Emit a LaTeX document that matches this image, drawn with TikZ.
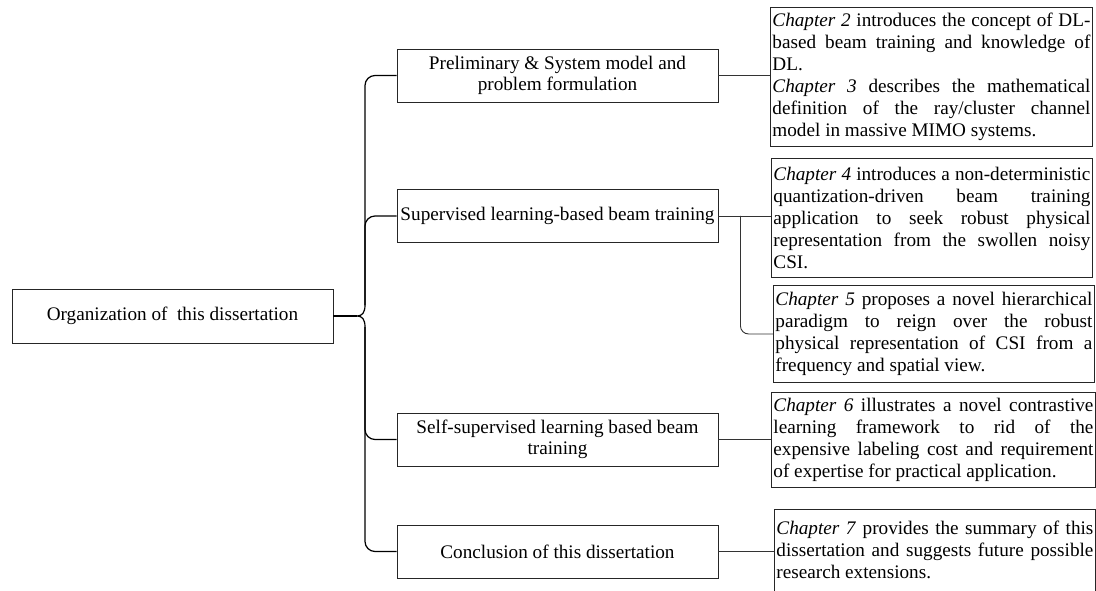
\documentclass[tikz,border=0pt]{standalone}
\usepackage{fontspec}
\setmainfont{Liberation Serif}
\usetikzlibrary{calc}
\begin{document}
\begin{tikzpicture}[x=1pt,y=-1pt,
  topicbox/.style={draw=black!85, line width=0.9pt, minimum width=321pt,
    minimum height=53pt, inner sep=0pt, align=center,
    font=\fontsize{19.2}{21.5}\selectfont},
  chapbox/.style={draw=black!85, line width=0.9pt, anchor=north west,
    inner xsep=2pt, inner ysep=0pt, align=justify,
    font=\fontsize{19.2}{21.9}\selectfont},
  link/.style={draw=black!80, line width=0.9pt},
  bracepart/.style={draw=black, line width=1.2pt},
  branch/.style={bracepart, rounded corners=10pt}]
\useasboundingbox (0,0) rectangle (1096,591);
\clip (0,0) rectangle (1096,591);

% root and the four topics
\node[topicbox, minimum height=54pt] (root) at (172.5,316) {Organization of~ this dissertation};
\node[topicbox] (b1) at (557.5,75.5) {Preliminary \& System model and\\problem formulation};
\node[topicbox] (b2) at (557.5,216) {Supervised learning-based beam training};
\node[topicbox] (b3) at (557.5,439.5) {Self-supervised learning based beam\\training};
\node[topicbox] (b4) at (557.5,551.5) {Conclusion of this dissertation};

% chapter summaries
\node[chapbox, text width=318pt, minimum height=139pt] (ch2) at (770,7)
  {\textit{Chapter 2} introduces the concept of DL-\linebreak
   based beam training and knowledge of\linebreak
   DL.\par
   \textit{Chapter 3} describes the mathematical\linebreak
   definition of the ray/cluster channel\linebreak
   model in massive MIMO systems.};
\node[chapbox, text width=317pt, minimum height=119pt] (ch4) at (771,158)
  {\textit{Chapter 4} introduces a non-deterministic\linebreak
   quantization-driven beam training\linebreak
   application to seek robust physical\linebreak
   representation from the swollen noisy\linebreak
   CSI.};
\node[chapbox, text width=317pt, minimum height=97pt] (ch5) at (773,285)
  {\textit{Chapter 5} proposes a novel hierarchical\linebreak
   paradigm to reign over the robust\linebreak
   physical representation of CSI from a\linebreak
   frequency and spatial view.};
\node[chapbox, text width=320pt, minimum height=95pt] (ch6) at (771,392)
  {\textit{Chapter 6} illustrates a novel contrastive\linebreak
   learning framework to rid of the\linebreak
   expensive labeling cost and requirement\linebreak
   of expertise for practical application.};
\node[chapbox, text width=317pt, inner ysep=12pt] (ch7) at (774,509)
  {\textit{Chapter 7} provides the summary of this\linebreak
   dissertation and suggests future possible\linebreak
   research extensions.};

% curly brace from the root to the topics
\coordinate (cusp) at (357,316);
\coordinate (spinetop) at (365,305);
\coordinate (spinebot) at (365,327);
\draw[bracepart] (root.east) -- (cusp);
\draw[bracepart] (spinetop) .. controls +(0,8) and +(5,0) .. (cusp)
  .. controls +(5,0) and +(0,-8) .. (spinebot);
\draw[branch] (spinetop) |- (b1.west);
\draw[branch] (spinetop) |- (b2.west);
\draw[branch] (spinebot) |- (b3.west);
\draw[branch] (spinebot) |- (b4.west);

% topics to chapters
\draw[link] (b1.east) -- (b1.east -| ch2.west);
\draw[link] (b2.east) -- (b2.east -| ch4.west);
\coordinate (split) at ($(b2.east)+(22,0)$);
\draw[link, rounded corners=8pt] (split) |- (ch5.west);
\draw[link] (b3.east) -- (b3.east -| ch6.west);
\draw[link] (b4.east) -- (b4.east -| ch7.west);
\end{tikzpicture}
\end{document}
